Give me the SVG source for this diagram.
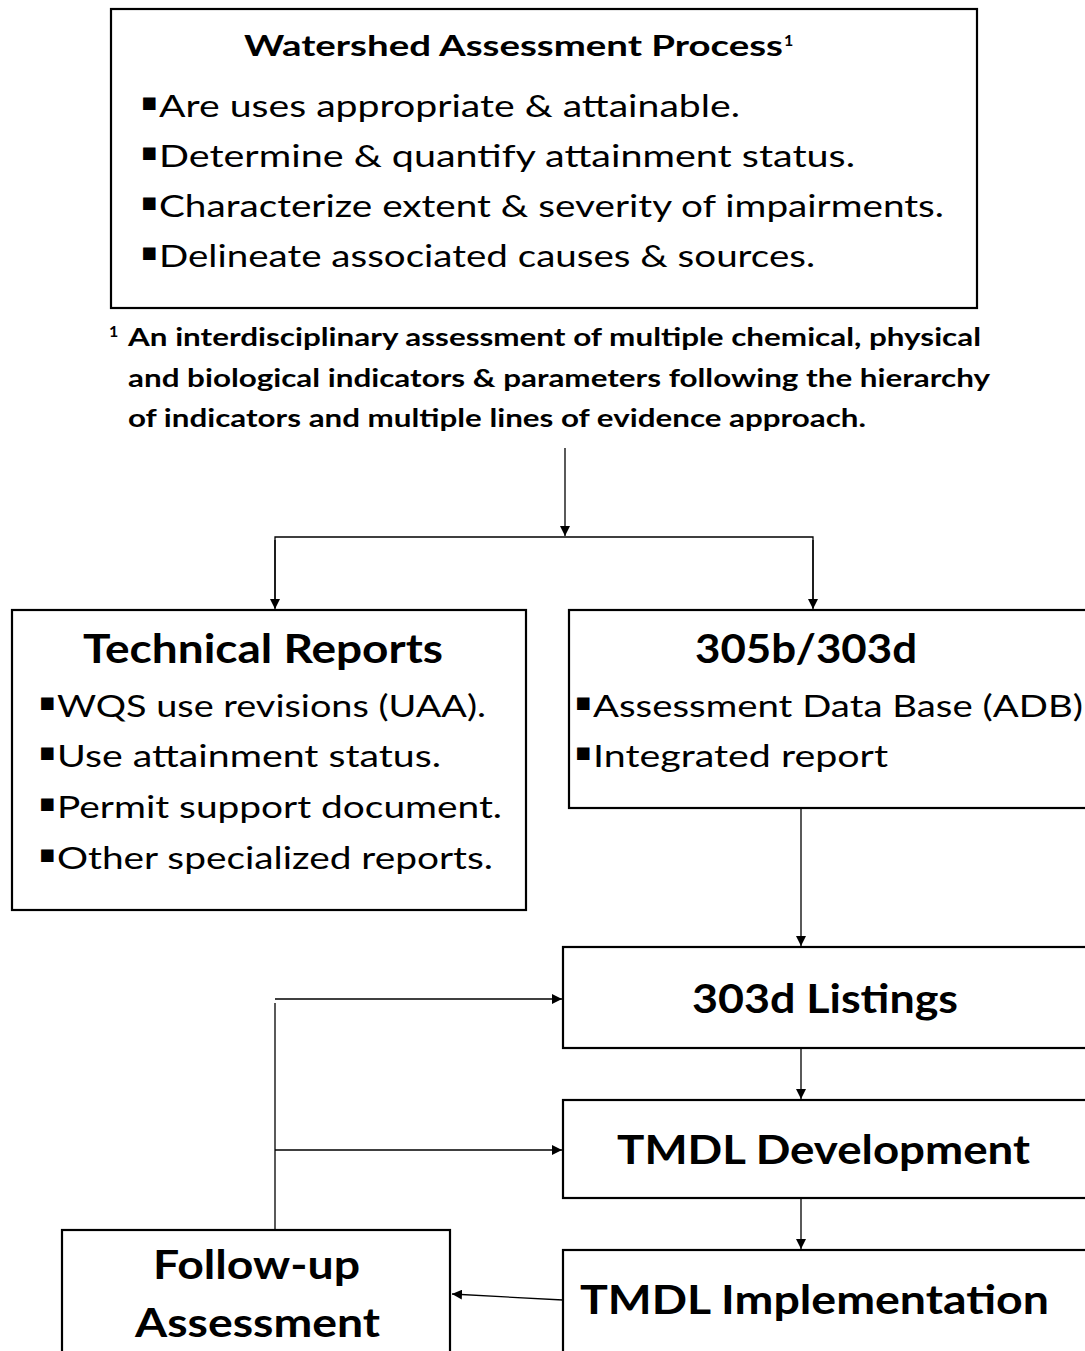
<svg xmlns="http://www.w3.org/2000/svg" width="1085" height="1351" viewBox="0 0 1085 1351">
<style>
.box{fill:#fff;stroke:#000;stroke-width:2.2}
.t{font-family:Lato,"Open Sans","Liberation Sans",sans-serif;fill:#000}
.b{font-weight:bold}
.bul{font-size:30px}
.dot{font-family:"DejaVu Sans",sans-serif;font-size:25px;fill:#000}
.hd{font-size:41px;font-weight:bold}
.fn{font-size:24px;font-weight:bold}
.sup{font-size:16px;font-weight:bold}
.c{fill:none;stroke:#000;stroke-width:1.3}
</style>
<defs>
<marker id="ah" viewBox="0 0 10 10" refX="10" refY="5" markerWidth="10" markerHeight="10" markerUnits="userSpaceOnUse" orient="auto">
<path d="M0,0 L10,5 L0,10 Z" fill="#000"/>
</marker>
</defs>
<rect width="1085" height="1351" fill="#fff"/>
<g id="connectors">
<line class="c" x1="565" y1="448" x2="565" y2="536" marker-end="url(#ah)"/>
<polyline class="c" points="275,608 275,537 813,537 813,608"/>
<line class="c" x1="275" y1="540" x2="275" y2="609" marker-end="url(#ah)"/>
<line class="c" x1="813" y1="540" x2="813" y2="609" marker-end="url(#ah)"/>
<line class="c" x1="801" y1="808" x2="801" y2="946" marker-end="url(#ah)"/>
<line class="c" x1="801" y1="1048" x2="801" y2="1099" marker-end="url(#ah)"/>
<line class="c" x1="801" y1="1198" x2="801" y2="1249" marker-end="url(#ah)"/>
<line class="c" x1="563" y1="1300" x2="452" y2="1294" marker-end="url(#ah)"/>
<line class="c" x1="275" y1="1230" x2="275" y2="1003"/>
<line class="c" x1="275" y1="999" x2="562" y2="999" marker-end="url(#ah)"/>
<line class="c" x1="275" y1="1150" x2="562" y2="1150" marker-end="url(#ah)"/>
</g>
<g id="watershed">
<rect class="box" x="111" y="9" width="866" height="299"/>
<text class="t b" x="244" y="56" font-size="29" textLength="539" lengthAdjust="spacingAndGlyphs">Watershed Assessment Process</text>
<text class="t sup" x="784" y="46">1</text>
<text class="dot" x="141" y="110">▪</text>
<text class="dot" x="141" y="160">▪</text>
<text class="dot" x="141" y="210">▪</text>
<text class="dot" x="141" y="260">▪</text>
<text class="t bul" x="159" y="117" textLength="581" lengthAdjust="spacingAndGlyphs">Are uses appropriate &amp; attainable.</text>
<text class="t bul" x="159" y="167" textLength="696" lengthAdjust="spacingAndGlyphs">Determine &amp; quantify attainment status.</text>
<text class="t bul" x="159" y="217" textLength="785" lengthAdjust="spacingAndGlyphs">Characterize extent &amp; severity of impairments.</text>
<text class="t bul" x="159" y="267" textLength="656" lengthAdjust="spacingAndGlyphs">Delineate associated causes &amp; sources.</text>
</g>
<g id="footnote">
<text class="t sup" x="109" y="337" font-size="17">1</text>
<text class="t fn" x="128" y="346" textLength="853" lengthAdjust="spacingAndGlyphs">An interdisciplinary assessment of multiple chemical, physical</text>
<text class="t fn" x="128" y="387" textLength="862" lengthAdjust="spacingAndGlyphs">and biological indicators &amp; parameters following the hierarchy</text>
<text class="t fn" x="128" y="427" textLength="738" lengthAdjust="spacingAndGlyphs">of indicators and multiple lines of evidence approach.</text>
</g>
<g id="technical-reports">
<rect class="box" x="12" y="610" width="514" height="300"/>
<text class="t hd" x="83" y="663" textLength="360" lengthAdjust="spacingAndGlyphs">Technical Reports</text>
<text class="dot" x="39" y="710">▪</text>
<text class="dot" x="39" y="760">▪</text>
<text class="dot" x="39" y="811">▪</text>
<text class="dot" x="39" y="862">▪</text>
<text class="t bul" x="57" y="717" textLength="429" lengthAdjust="spacingAndGlyphs">WQS use revisions (UAA).</text>
<text class="t bul" x="57" y="767" textLength="384" lengthAdjust="spacingAndGlyphs">Use attainment status.</text>
<text class="t bul" x="57" y="818" textLength="445" lengthAdjust="spacingAndGlyphs">Permit support document.</text>
<text class="t bul" x="57" y="869" textLength="436" lengthAdjust="spacingAndGlyphs">Other specialized reports.</text>
</g>
<g id="305b-303d">
<rect class="box" x="569" y="610" width="530" height="198"/>
<text class="t hd" x="695" y="663" textLength="222" lengthAdjust="spacingAndGlyphs">305b/303d</text>
<text class="dot" x="575" y="710">▪</text>
<text class="dot" x="575" y="760">▪</text>
<text class="t bul" x="593" y="717" textLength="490" lengthAdjust="spacingAndGlyphs">Assessment Data Base (ADB)</text>
<text class="t bul" x="593" y="767" textLength="295" lengthAdjust="spacingAndGlyphs">Integrated report</text>
</g>
<g id="303d-listings">
<rect class="box" x="563" y="947" width="540" height="101"/>
<text class="t hd" x="692" y="1013" textLength="266" lengthAdjust="spacingAndGlyphs">303d Listings</text>
</g>
<g id="tmdl-development">
<rect class="box" x="563" y="1100" width="540" height="98"/>
<text class="t hd" x="617" y="1164" textLength="413" lengthAdjust="spacingAndGlyphs">TMDL Development</text>
</g>
<g id="tmdl-implementation">
<rect class="box" x="563" y="1250" width="540" height="120"/>
<text class="t hd" x="580" y="1314" textLength="469" lengthAdjust="spacingAndGlyphs">TMDL Implementation</text>
</g>
<g id="follow-up">
<rect class="box" x="62" y="1230" width="388" height="140"/>
<text class="t hd" x="153" y="1279" textLength="207" lengthAdjust="spacingAndGlyphs">Follow-up</text>
<text class="t hd" x="135" y="1337" textLength="245" lengthAdjust="spacingAndGlyphs">Assessment</text>
</g>
</svg>
